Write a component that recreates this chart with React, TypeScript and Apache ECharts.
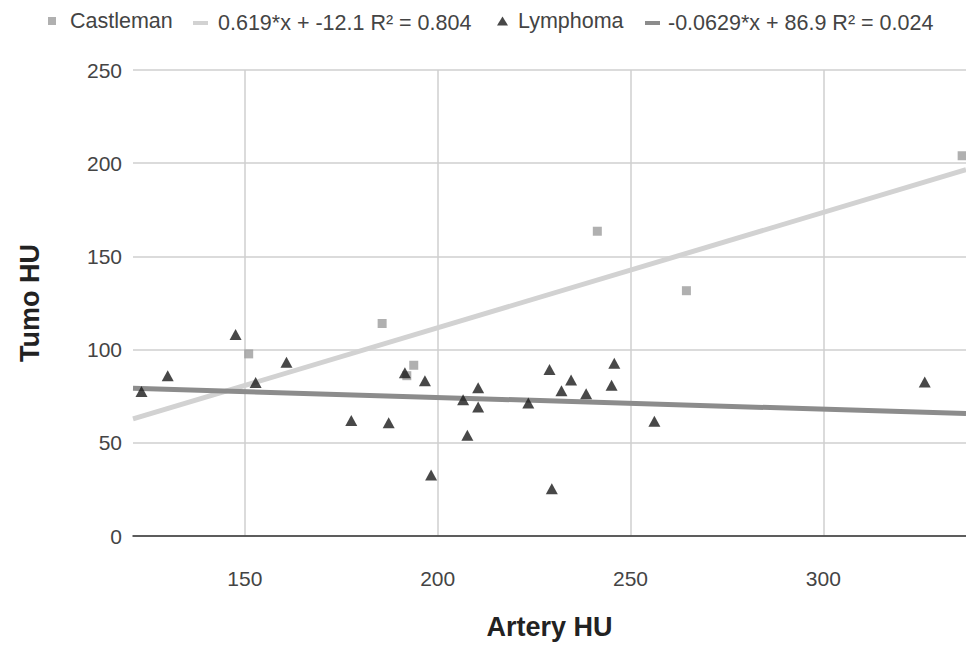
import React, { useEffect, useRef } from "react";
import * as echarts from "echarts";

const castlemanX = [151, 185.6, 192, 193.8, 241.4, 264.5, 336];
const castlemanY = [97.7, 114, 86, 91.6, 163.5, 131.6, 204];

const lymphomaX = [123.2, 130, 147.6, 152.8, 160.8, 177.6, 187.3, 191.5, 196.7, 198.3, 206.6, 207.7, 210.5, 210.5, 223.5, 229, 229.6, 232.1, 234.6, 238.5, 245.1, 245.8, 256.2, 326.3];
const lymphomaY = [77.5, 86, 108.1, 82.3, 93.2, 61.9, 60.7, 87.6, 83.3, 32.7, 73.1, 54, 79.6, 69.2, 71.3, 89.3, 25.3, 77.9, 83.7, 76.3, 80.9, 92.7, 61.6, 82.6];

const castlemanTrend = { slope: 0.619, intercept: -12.1, label: "0.619*x + -12.1 R² = 0.804" };
const lymphomaTrend = { slope: -0.0629, intercept: 86.9, label: "-0.0629*x + 86.9 R² = 0.024" };

const xMin = 121;
const xMax = 337;
const yTicks = [0, 50, 100, 150, 200, 250];

const FONT = "'Liberation Sans', Arial, sans-serif";

export default function App() {
  const ref = useRef<HTMLDivElement>(null);
  useEffect(() => {
    if (!ref.current) return;
    const chart = echarts.init(ref.current, null, { renderer: "svg" });
    const trendData = (t: { slope: number; intercept: number }) => [
      [xMin, t.slope * xMin + t.intercept],
      [xMax, t.slope * xMax + t.intercept],
    ];
    const legendText = (p: number) => ({
      color: "#444",
      fontSize: 21.5,
      fontFamily: FONT,
      padding: [0, 0, 0, p],
    });
    chart.setOption({
      animation: false,
      backgroundColor: "#fff",
      textStyle: { fontFamily: FONT },
      grid: { left: 133, right: 0, top: 70, bottom: 104, containLabel: false },
      legend: [
        {
          left: 48, top: 10, padding: 0, itemWidth: 8, itemHeight: 8,
          data: [{ name: "Castleman", icon: "rect", itemStyle: { color: "#9c9c9c", borderWidth: 0 } }],
          textStyle: legendText(9),
          selectedMode: false,
        },
        {
          left: 193, top: 12, padding: 0, itemWidth: 15, itemHeight: 4,
          data: [{ name: castlemanTrend.label, icon: "rect", itemStyle: { color: "#d2d2d2", borderWidth: 0 } }],
          textStyle: legendText(5),
          selectedMode: false,
        },
        {
          left: 497, top: 10, padding: 0, itemWidth: 11, itemHeight: 9,
          data: [{ name: "Lymphoma", icon: "triangle", itemStyle: { color: "#1a1a1a", borderWidth: 0 } }],
          textStyle: legendText(5),
          selectedMode: false,
        },
        {
          left: 645, top: 12, padding: 0, itemWidth: 15, itemHeight: 4,
          data: [{ name: lymphomaTrend.label, icon: "rect", itemStyle: { color: "#8c8c8c", borderWidth: 0 } }],
          textStyle: legendText(3),
          selectedMode: false,
        },
      ],
      xAxis: {
        type: "value",
        min: xMin,
        max: xMax,
        name: "Artery HU",
        nameLocation: "middle",
        nameGap: 77,
        nameTextStyle: { fontSize: 27, fontWeight: "bold", color: "#222", fontFamily: FONT },
        axisLine: { show: true, lineStyle: { color: "#333", width: 1.5 } },
        axisTick: { show: false },
        axisLabel: { margin: 32, fontSize: 21, color: "#444", showMinLabel: false, showMaxLabel: false, fontFamily: FONT },
        splitLine: { show: true, showMinLine: false, showMaxLine: false, lineStyle: { color: "#cfcfcf", width: 1.5 } },
      },
      yAxis: {
        type: "value",
        min: yTicks[0],
        max: yTicks[yTicks.length - 1],
        interval: 50,
        name: "Tumo HU",
        nameLocation: "middle",
        nameGap: 90,
        nameRotate: 90,
        nameTextStyle: { fontSize: 27, fontWeight: "bold", color: "#222", fontFamily: FONT },
        axisLine: { show: false },
        axisTick: { show: false },
        axisLabel: { margin: 11, fontSize: 21, color: "#444", fontFamily: FONT },
        splitLine: { show: true, lineStyle: { color: "#cfcfcf", width: 1.5 } },
      },
      series: [
        {
          name: "Castleman",
          type: "scatter",
          symbol: "rect",
          symbolSize: 9,
          z: 5,
          itemStyle: { color: "#9c9c9c" },
          data: castlemanX.map((x, i) => [x, castlemanY[i]]),
        },
        {
          name: castlemanTrend.label,
          type: "line",
          symbol: "none",
          showSymbol: false,
          z: 3,
          lineStyle: { color: "#d2d2d2", width: 5 },
          itemStyle: { color: "#d2d2d2" },
          data: trendData(castlemanTrend),
        },
        {
          name: "Lymphoma",
          type: "scatter",
          symbol: "triangle",
          symbolSize: [12, 11],
          z: 6,
          itemStyle: { color: "#1a1a1a" },
          data: lymphomaX.map((x, i) => [x, lymphomaY[i]]),
        },
        {
          name: lymphomaTrend.label,
          type: "line",
          symbol: "none",
          showSymbol: false,
          z: 4,
          lineStyle: { color: "#8c8c8c", width: 5 },
          itemStyle: { color: "#8c8c8c" },
          data: trendData(lymphomaTrend),
        },
      ],
    });
    return () => chart.dispose();
  }, []);
  return (
    <div
      ref={ref}
      style={{ position: "fixed", left: 0, top: 0, width: 966, height: 645, background: "#fff" }}
    />
  );
}
